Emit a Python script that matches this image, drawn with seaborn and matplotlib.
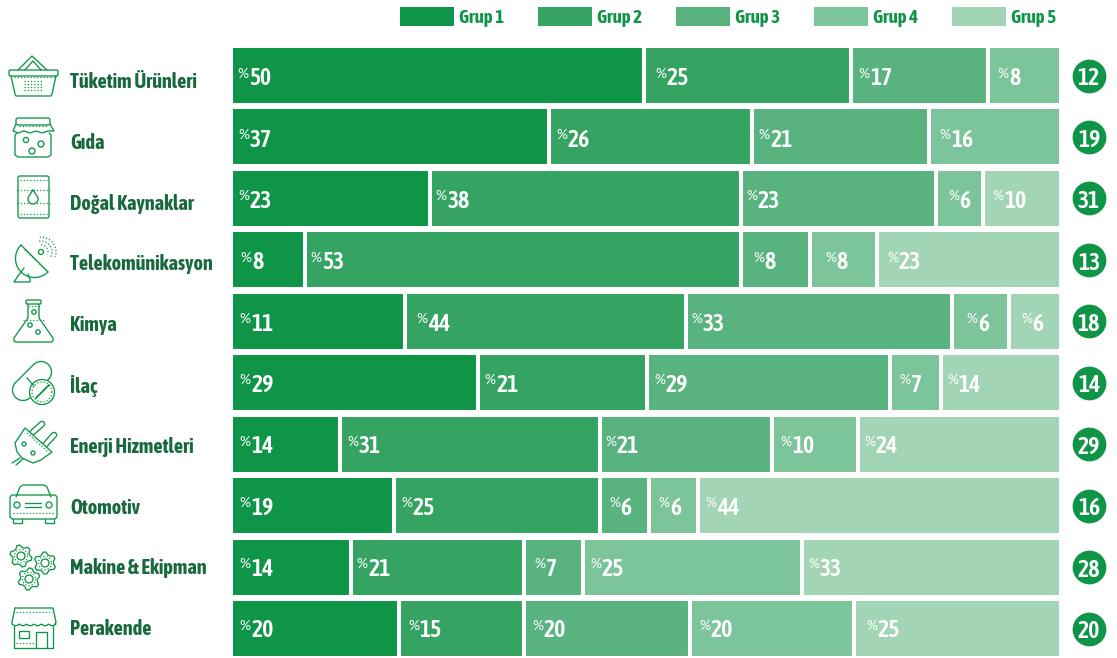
import numpy as np
import matplotlib
matplotlib.use('Agg')
import matplotlib.pyplot as plt
from matplotlib.patches import Circle, Rectangle, FancyBboxPatch, Polygon
from matplotlib.transforms import ScaledTranslation
import seaborn as sns

sectors = ['Tüketim Ürünleri', 'Gıda', 'Doğal Kaynaklar', 'Telekomünikasyon', 'Kimya',
           'İlaç', 'Enerji Hizmetleri', 'Otomotiv', 'Makine & Ekipman', 'Perakende']
groups = ['Grup 1', 'Grup 2', 'Grup 3', 'Grup 4', 'Grup 5']
counts = [12, 19, 31, 13, 18, 14, 29, 16, 28, 20]

# bar lengths (they differ a little from the printed numbers)
grup1 = [49.7, 38.3, 24.0, 8.9, 21.0, 29.8, 13.1, 19.6, 14.5, 20.3]
grup2 = [25.0, 24.5, 37.4, 52.5, 33.8, 20.3, 31.3, 24.8, 20.8, 15.0]
grup3 = [16.5, 21.3, 23.5, 8.3, 32.1, 29.3, 20.8, 6.0, 7.1, 20.0]
grup4 = [8.8, 15.9, 5.7, 8.1, 6.8, 6.1, 10.3, 5.9, 26.4, 19.7]
grup5 = [0, 0, 9.4, 22.2, 6.3, 14.5, 24.5, 43.7, 31.2, 25.0]

# printed percentages
label1 = [50, 37, 23, 8, 11, 29, 14, 19, 14, 20]
label2 = [25, 26, 38, 53, 44, 21, 31, 25, 21, 15]
label3 = [17, 21, 23, 8, 33, 29, 21, 6, 7, 20]
label4 = [8, 16, 6, 8, 6, 7, 10, 6, 25, 20]
label5 = [None, None, 10, 23, 6, 14, 24, 44, 33, 25]

colors = ['#0f9547', '#35a463', '#58b37f', '#7cc49a', '#a1d5b5']
dark = '#19693f'
W, H = 1117, 658

# px between a bar's left side and its label, the labels were placed by hand
pad1 = [3, 4, 4, 6, 5, 5, 5, 5, 5, 5]
pad2 = [8, 4, 2, 2, 8, 3, 4, 4, 2, 5]
pad3 = [4, 3, 2, 9, 2, 4, 2, 6, 7, 5]
pad4 = [6, 7, 9, 12, 11, 6, 5, 6, 4, 6]
pad5 = [0, 0, 6, 7, 9, 3, 3, 4, 3, 9]

sns.set_theme(style='white')
plt.rcParams['font.family'] = ['Asap Condensed', 'Lato', 'DejaVu Sans']
plt.rcParams['font.weight'] = 'bold'

fig = plt.figure(figsize=(W / 100, H / 100), dpi=100, facecolor='white')
x0, x1 = 231, 1061
row = (628.5 - 75.5) / 9
top = 75.5 - row / 2
ax = fig.add_axes([x0 / W, 1 - (top + 10 * row) / H, (x1 - x0) / W, 10 * row / H])

values = [grup1, grup2, grup3, grup4, grup5]
labels = [label1, label2, label3, label4, label5]
pads = [pad1, pad2, pad3, pad4, pad5]
left = np.zeros(len(sectors))
for g, name in enumerate(groups):
    sns.barplot(x=values[g], y=sectors, color=colors[g], left=left, width=0.96, saturation=1,
                edgecolor='white', linewidth=2.9, label=name, ax=ax, legend=False)
    for i, lab in enumerate(labels[g]):
        if lab is None:
            continue
        ax.annotate('%', (left[i], i), xytext=((3.5 + pads[g][i]) * 0.72, 1.4 + 0.08 * i), textcoords='offset points',
                    color='white', fontsize=10, fontweight='normal', va='center', family='Lato')
        ax.annotate(str(lab), (left[i], i), xytext=((15 + pads[g][i]) * 0.72, -0.7 + 0.08 * i), textcoords='offset points',
                    color='white', fontsize=17, fontweight='semibold', va='center_baseline')
    left = left + np.array(values[g])

ax.set_xlim(0, 100)
ax.set_ylim(9.5, -0.5)
sns.despine(ax=ax, left=True, bottom=True)
ax.set_xticks([])
ax.set_xlabel('')
ax.tick_params(axis='y', length=0, pad=(x0 - 70) * 0.72)

# number circles on the right
bx = (1089 - x0) / (x1 - x0) * 100
sns.scatterplot(x=[bx] * len(sectors), y=sectors, s=590, color=colors[0], linewidth=0, clip_on=False, ax=ax, legend=False)
ax.set_xlim(0, 100)
ax.set_ylim(9.5, -0.5)
for i, c in enumerate(counts):
    ax.annotate(str(c), (bx, i), xytext=(0, -0.5), textcoords='offset points', color='white', fontsize=17,
                fontweight='semibold', ha='center', va='center_baseline', annotation_clip=False)

# the names sit a bit under the bar centres at the top and level with them at the bottom
for i, t in enumerate(ax.get_yticklabels()):
    t.set_ha('left')
    t.set_color(dark)
    t.set_fontsize(14.6)
    t.set_transform(t.get_transform() + ScaledTranslation(0, (-4.5 + 0.65 * i) / 100, fig.dpi_scale_trans))

handles, names = ax.get_legend_handles_labels()
fs = 13.5
fpx = fs / 0.72
leg = ax.legend(handles, names, ncol=5, frameon=False, fontsize=fs, labelcolor=colors[0],
                handlelength=54 / fpx, handleheight=1.15, handletextpad=5 / fpx, columnspacing=34 / fpx,
                loc='upper left', bbox_to_anchor=(400 / W, 1 - 7 / H), bbox_transform=fig.transFigure,
                borderaxespad=0, borderpad=0)
for h in leg.legend_handles:
    h.set_linewidth(0)

# icons, drawn in pixel coordinates on a see-through layer
ov = fig.add_axes([0, 0, 1, 1], facecolor='none')
ov.set_xlim(0, W)
ov.set_ylim(H, 0)
ov.axis('off')
ic = colors[0]


def ln(xs, ys, dots=False, lw=0.95):
    if dots:
        ov.plot(xs, ys, color=ic, lw=0.9, ls=(0, (1, 1.6)))
    else:
        ov.plot(xs, ys, color=ic, lw=lw, solid_capstyle='round', solid_joinstyle='round')


def circ(x, y, r, fill='none', lw=0.95):
    ov.add_patch(Circle((x, y), r, fc=fill, ec=ic, lw=lw))


def box(x, y, w, h, rad=1.5, fill='none'):
    ov.add_patch(FancyBboxPatch((x + rad, y + rad), w - 2 * rad, h - 2 * rad, boxstyle='round,pad=%f' % rad,
                                fc=fill, ec=ic, lw=0.95))


def arc(cx, cy, r, a0, a1, dots=False):
    a = np.radians(np.linspace(a0, a1, 40))
    ln(cx + r * np.cos(a), cy + r * np.sin(a), dots)


def capsule(p, q, r, fill='none'):
    p, q = np.array(p, float), np.array(q, float)
    ang = np.degrees(np.arctan2(q[1] - p[1], q[0] - p[0]))
    a1 = np.radians(np.linspace(ang + 90, ang + 270, 20))
    a2 = np.radians(np.linspace(ang - 90, ang + 90, 20))
    pts = np.vstack([np.c_[p[0] + r * np.cos(a1), p[1] + r * np.sin(a1)],
                     np.c_[q[0] + r * np.cos(a2), q[1] + r * np.sin(a2)]])
    ov.add_patch(Polygon(pts, closed=True, fc=fill, ec=ic, lw=0.95))


def gear(cx, cy, r, rot=0):
    a = np.radians(np.arange(0, 360, 15) + rot)
    rad = np.tile([r, r, r * 0.78, r * 0.78], 6)
    ov.add_patch(Polygon(np.c_[cx + rad * np.cos(a), cy + rad * np.sin(a)], closed=True, fc='none', ec=ic, lw=0.95))
    circ(cx, cy, r * 0.36)
    arc(cx, cy, r * 0.6, 0, 360, True)


# basket
ln([18, 32, 47], [70, 56, 70])
ln([25, 33, 41], [70, 61, 70])
box(9, 70, 49, 6, 1.5)
ln([11, 15, 16, 51, 52, 56], [76, 94, 96, 96, 94, 76])
ln([14, 54], [77, 77], True)
for yy in [81, 84, 87, 90]:
    ln([24, 43], [yy, yy], True)
# jar
box(16, 118, 34, 7, 2)
ln([16, 13, 18, 24, 30, 36, 42, 48, 54, 50], [124, 131, 133, 131, 133, 131, 133, 131, 131, 124])
ln([17, 15, 15, 18, 48, 51, 51, 49], [133, 135, 155, 157, 157, 155, 135, 133])
ln([19, 47], [126, 126], True)
circ(26, 140, 2.6)
circ(41, 144, 3)
circ(32, 151, 3)
# barrel
box(18, 176, 31, 42, 2)
ln([20, 47], [180, 180], True)
ln([20, 47], [214, 214], True)
ln([17, 50], [190, 190], True)
ln([17, 50], [203, 203], True)
t = np.radians(np.linspace(-30, 210, 30))
ln(np.r_[33, 33 + 5 * np.cos(t), 33], np.r_[190, 199 + 5 * np.sin(t), 190])
# dish
ln([21, 48], [245, 272])
arc(34.5, 258.5, 19, 45, 225)
ln([24, 18, 14, 30, 30, 28], [268, 276, 282, 282, 279, 274])
circ(41, 252, 2.5)
arc(41, 252, 7, -90, 20, True)
arc(41, 252, 11, -100, 25, True)
arc(41, 252, 15, -95, 20, True)
ln([25, 47], [250, 271], True)
# flask
box(26, 300, 15, 4, 1)
ln([28, 28, 14, 14, 16, 51, 53, 53, 39, 39], [304, 318, 338, 341, 342, 342, 341, 338, 318, 304])
ln([28, 39], [306, 306], True)
ln([23, 44], [320, 320], True)
circ(34, 312, 2.2)
circ(30, 325, 2.2)
circ(38, 332, 2.2)
# pills
capsule((23, 390), (41, 372), 10.5)
ln([27, 34], [378, 386])
circ(42, 392, 12.5, fill='white')
ln([36, 49], [398, 385], lw=1.3)
arc(42, 392, 10, 0, 360, True)
# plug
capsule((33, 432), (42, 424), 2.6)
capsule((45, 445), (54, 435), 2.6)
ov.add_patch(Polygon([(25, 428), (52, 452), (41, 460), (33, 463), (22, 458), (17, 452), (15, 443)], closed=True,
                     fc='white', ec=ic, lw=0.95))
ln([27, 48], [433, 452], True)
ln([20, 12], [458, 463])
ln([23, 16], [459, 465])
circ(24, 444, 2)
circ(33, 453, 2)
# car
ln([16, 20, 23, 44, 47, 51], [497, 487, 485, 485, 487, 497])
box(10, 495, 47, 24, 3)
ln([13, 13, 22, 22], [519, 523, 523, 519])
ln([45, 45, 54, 54], [519, 523, 523, 519])
circ(17, 505, 3)
circ(49, 505, 3)
ln([25, 41], [503, 503])
ln([25, 41], [507, 507])
ln([13, 55], [513, 513], True)
# gears
gear(21, 556, 11, 8)
gear(45, 563, 11, 20)
gear(29, 579, 11, 30)
# shop
ln([15, 53, 56, 55], [608, 608, 622, 624])
ln([15, 12, 12], [608, 622, 624])
xs = np.linspace(12, 56, 50)
ln(xs, 624 + 1.7 * np.abs(np.sin((xs - 12) / 44 * 6 * np.pi)))
ln([14, 14, 53, 53], [626, 648, 648, 626])
ov.add_patch(Rectangle((19, 631), 10, 7, fc='none', ec=ic, lw=0.95))
ln([36, 36, 47, 47], [648, 632, 632, 648])
ln([16, 52], [612, 612], True)
ln([16, 34], [643, 643], True)
ln([43.5, 44], [640, 640], lw=1.5)

fig.savefig('out.png', dpi=100, facecolor='white')
